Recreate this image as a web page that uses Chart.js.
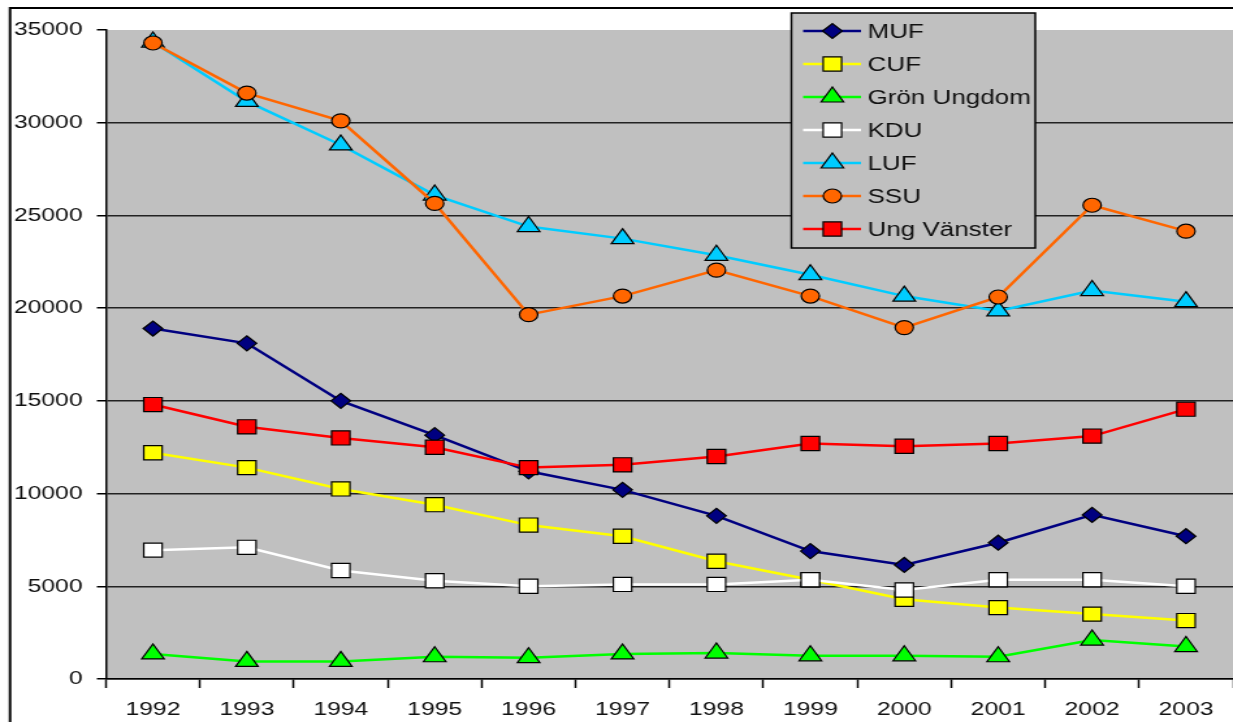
<!DOCTYPE html>
<html>
<head>
<meta charset="utf-8">
<script src="https://cdn.jsdelivr.net/npm/chart.js@4.4.1/dist/chart.umd.min.js"></script>
<style>
  html, body { margin: 0; padding: 0; background: #fff; overflow: hidden; }
  #wrap { width: 948px; height: 722px; transform: scaleX(1.3006); transform-origin: 0 0; }
</style>
</head>
<body>
<div id="wrap"><canvas id="chart1" width="948" height="722"></canvas></div>
<script>
var years = ["1992","1993","1994","1995","1996","1997","1998","1999","2000","2001","2002","2003"];
var yTicks = [0, 5000, 10000, 15000, 20000, 25000, 30000, 35000];

var muf = [18900, 18100, 15000, 13150, 11200, 10200, 8800, 6900, 6150, 7350, 8850, 7700];
var cuf = [12200, 11400, 10250, 9400, 8300, 7700, 6350, 5350, 4300, 3850, 3500, 3150];
var gron = [1350, 950, 950, 1200, 1150, 1350, 1400, 1250, 1250, 1200, 2100, 1750];
var kdu = [6950, 7100, 5850, 5300, 5000, 5100, 5100, 5350, 4800, 5350, 5350, 5000];
var luf = [34350, 31150, 28800, 26100, 24400, 23750, 22850, 21800, 20650, 19850, 20950, 20350];
var ssu = [34300, 31600, 30100, 25650, 19650, 20650, 22050, 20650, 18950, 20600, 25550, 24150];
var ungv = [14800, 13600, 13000, 12500, 11400, 11550, 12000, 12700, 12550, 12700, 13100, 14550];

var font = "'Liberation Sans', Arial, sans-serif";

function serie(label, values, color, fill, style, radius) {
    return {
        label: label,
        data: values,
        borderColor: color,
        backgroundColor: fill,
        borderWidth: 2.5,
        pointStyle: style,
        pointRadius: radius,
        pointHoverRadius: radius,
        pointBackgroundColor: fill,
        pointBorderColor: "#000",
        pointBorderWidth: 1.2,
        tension: 0
    };
}

var datasets = [
    serie("MUF", muf, "#000080", "#000080", "rectRot", 7.5),
    serie("CUF", cuf, "#ffff00", "#ffff00", "rect", 10),
    serie("Grön Ungdom", gron, "#00ff00", "#00ff00", "triangle", 10),
    serie("KDU", kdu, "#ffffff", "#ffffff", "rect", 10),
    serie("LUF", luf, "#00ccff", "#00ccff", "triangle", 10),
    serie("SSU", ssu, "#ff6600", "#ff6600", "circle", 7),
    serie("Ung Vänster", ungv, "#ff0000", "#ff0000", "rect", 10)
];
// later series drawn on top, like the original
datasets.forEach(function (d, i) { d.order = datasets.length - i; });

var background = {
    id: "background",
    beforeDraw: function (chart) {
        var ctx = chart.ctx, a = chart.chartArea;
        ctx.save();
        ctx.fillStyle = "#fff";
        ctx.fillRect(0, 0, chart.width, chart.height);
        ctx.fillStyle = "#c0c0c0";
        ctx.fillRect(a.left, a.top, a.right - a.left, a.bottom - a.top);
        ctx.restore();
    }
};

var boxLegend = {
    id: "boxLegend",
    afterDraw: function (chart) {
        var ctx = chart.ctx;
        ctx.save();
        // frame round the picture
        ctx.strokeStyle = "#000";
        ctx.lineWidth = 2;
        ctx.beginPath();
        ctx.moveTo(7.7, chart.height);
        ctx.lineTo(7.7, 8);
        ctx.lineTo(chart.width, 8);
        ctx.stroke();

        var x0 = 608.5, y0 = 13, w = 187.5, h = 235;
        ctx.fillStyle = "#c0c0c0";
        ctx.fillRect(x0, y0, w, h);
        ctx.lineWidth = 1.5;
        ctx.strokeStyle = "#000";
        ctx.strokeRect(x0, y0, w, h);

        chart.data.datasets.forEach(function (ds, i) {
            var y = 31 + i * 33;
            ctx.strokeStyle = ds.borderColor;
            ctx.lineWidth = 2.5;
            ctx.beginPath();
            ctx.moveTo(617.5, y);
            ctx.lineTo(662, y);
            ctx.stroke();
            ctx.fillStyle = ds.pointBackgroundColor;
            ctx.strokeStyle = "#000";
            ctx.lineWidth = 1.2;
            Chart.helpers.drawPoint(ctx, {
                pointStyle: ds.pointStyle,
                radius: ds.pointRadius,
                rotation: 0,
                borderWidth: 1.2
            }, 640, y);
            ctx.fillStyle = "#111";
            ctx.font = "20px " + font;
            ctx.textBaseline = "middle";
            ctx.textAlign = "left";
            ctx.fillText(ds.label, 667, y + 1);
        });
        ctx.restore();
    }
};

var myLineChart = new Chart(document.getElementById("chart1"), {
    type: "line",
    data: { labels: years, datasets: datasets },
    plugins: [background, boxLegend],
    options: {
        responsive: false,
        animation: false,
        layout: { autoPadding: false, padding: { top: 30, left: 0, right: 0, bottom: 0 } },
        plugins: { legend: { display: false }, tooltip: { enabled: false } },
        scales: {
            x: {
                offset: true,
                grid: {
                    offset: true,
                    drawOnChartArea: false,
                    tickLength: 9,
                    tickColor: "#000",
                    tickWidth: 1.5
                },
                border: { color: "#000", width: 1.5 },
                ticks: { color: "#111", padding: 10, font: { size: 19, family: font } },
                afterFit: function (scale) {
                    scale.height = 43;
                    scale.paddingLeft = 0;
                    scale.paddingRight = 0;
                }
            },
            y: {
                min: 0,
                max: 35000,
                afterBuildTicks: function (scale) {
                    scale.ticks = yTicks.map(function (v) { return { value: v }; });
                },
                grid: {
                    color: function (c) { return c.tick && c.tick.value === 35000 ? "rgba(0,0,0,0)" : "#222"; },
                    lineWidth: 1.5,
                    tickLength: 7,
                    tickColor: "#000",
                    tickWidth: 1.5
                },
                border: { color: "#000", width: 1.5 },
                ticks: {
                    color: "#111",
                    padding: 11,
                    font: { size: 19, family: font },
                    callback: function (v) { return String(v); }
                },
                afterFit: function (scale) { scale.width = 81.5; }
            }
        }
    }
});
</script>
</body>
</html>
